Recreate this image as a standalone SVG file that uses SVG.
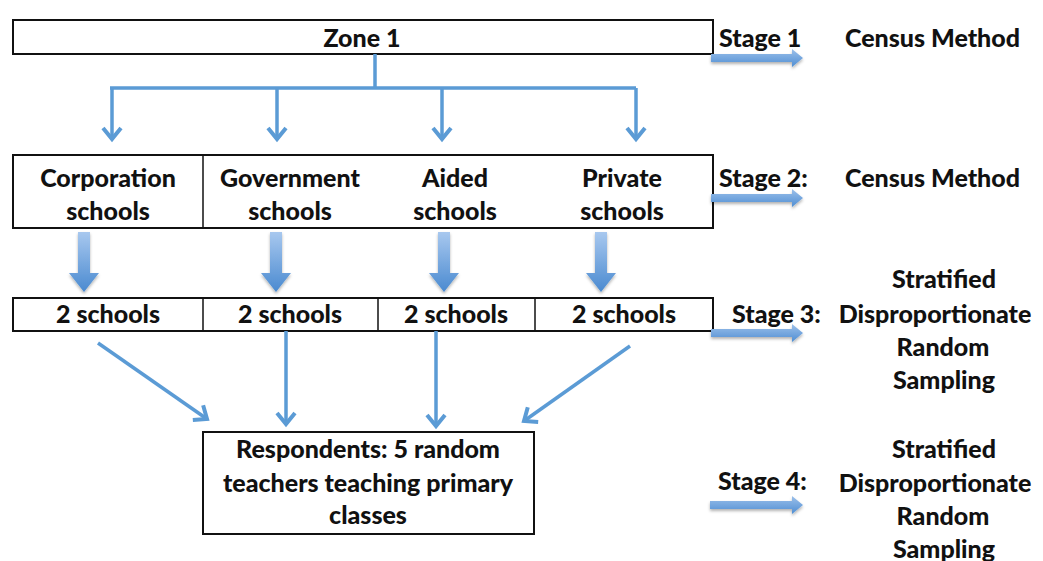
<svg xmlns="http://www.w3.org/2000/svg" width="1043" height="561" viewBox="0 0 1043 561">
  <defs>
    <style>
      text { font-family: Lato, "Open Sans", "Liberation Sans", sans-serif; font-weight: 900; font-size: 25px; fill: #111; }
      .c { text-anchor: middle; }
      .box { fill: #fff; stroke: #111; stroke-width: 2; }
      .div { stroke: #111; stroke-width: 1.5; }
      .link { fill: none; stroke: #5b9bd5; stroke-width: 3.5; }
      .block { fill: url(#blockGrad); }
    </style>
    <linearGradient id="blockGrad" x1="0" y1="0" x2="0" y2="1">
      <stop offset="0" stop-color="#9cc0ea"/>
      <stop offset="1" stop-color="#4f8ed3"/>
    </linearGradient>
    <linearGradient id="blockGradV" x1="0" y1="0" x2="0" y2="1">
      <stop offset="0" stop-color="#a8c8ef"/>
      <stop offset="1" stop-color="#4a8ad0"/>
    </linearGradient>
    <filter id="shadow" x="-20%" y="-20%" width="140%" height="160%">
      <feDropShadow dx="0" dy="2" stdDeviation="1.5" flood-color="#000" flood-opacity="0.3"/>
    </filter>
    <marker id="head" viewBox="0 0 24 24" refX="14" refY="12" markerWidth="24" markerHeight="24" markerUnits="userSpaceOnUse" orient="auto">
      <path d="M3,3 L14,12 L3,21" fill="none" stroke="#5b9bd5" stroke-width="4" stroke-linejoin="miter"/>
    </marker>
  </defs>

  <!-- Stage 1 -->
  <g id="zone1">
    <rect class="box" x="13" y="20" width="700" height="34"/>
    <text class="c" x="362" y="47">Zone 1</text>
  </g>

  <!-- Stage 2 row -->
  <g id="school-types">
    <rect class="box" x="13" y="155" width="700" height="73"/>
    <line class="div" x1="203" y1="155" x2="203" y2="228"/>
    <text class="c" x="108" y="187">Corporation</text>
    <text class="c" x="108" y="220">schools</text>
    <text class="c" x="290" y="187">Government</text>
    <text class="c" x="290" y="220">schools</text>
    <text class="c" x="455" y="187">Aided</text>
    <text class="c" x="455" y="220">schools</text>
    <text class="c" x="622" y="187">Private</text>
    <text class="c" x="622" y="220">schools</text>
  </g>

  <!-- Stage 3 row -->
  <g id="samples">
    <rect class="box" x="13" y="298" width="700" height="33"/>
    <line class="div" x1="203" y1="298" x2="203" y2="331"/>
    <line class="div" x1="378" y1="298" x2="378" y2="331"/>
    <line class="div" x1="535" y1="298" x2="535" y2="331"/>
    <text class="c" x="108" y="323">2 schools</text>
    <text class="c" x="290" y="323">2 schools</text>
    <text class="c" x="456" y="323">2 schools</text>
    <text class="c" x="624" y="323">2 schools</text>
  </g>

  <!-- Stage 4 -->
  <g id="respondents">
    <rect class="box" x="203" y="432" width="331" height="102"/>
    <text class="c" x="368" y="458">Respondents: 5 random</text>
    <text class="c" x="368" y="492">teachers teaching primary</text>
    <text class="c" x="368" y="524">classes</text>
  </g>

  <!-- stage labels -->
  <g id="stage-labels">
    <text x="719" y="47">Stage 1</text>
    <text x="845" y="47">Census Method</text>
    <text x="719" y="187">Stage 2:</text>
    <text x="845" y="187">Census Method</text>
    <text x="732" y="323">Stage 3:</text>
    <text class="c" x="944" y="288">Stratified</text>
    <text class="c" x="935" y="323">Disproportionate</text>
    <text class="c" x="943" y="356">Random</text>
    <text class="c" x="944" y="389">Sampling</text>
    <text x="718" y="490">Stage 4:</text>
    <text class="c" x="944" y="458">Stratified</text>
    <text class="c" x="935" y="492">Disproportionate</text>
    <text class="c" x="943" y="525">Random</text>
    <text class="c" x="944" y="558">Sampling</text>
  </g>

  <!-- connectors -->
  <g id="connectors">
    <!-- zone to school types -->
    <path class="link" d="M375,54 V88 M110,88 H636"/>
    <line class="link" x1="112" y1="88" x2="112" y2="139" marker-end="url(#head)"/>
    <line class="link" x1="277" y1="88" x2="277" y2="139" marker-end="url(#head)"/>
    <line class="link" x1="442" y1="88" x2="442" y2="139" marker-end="url(#head)"/>
    <line class="link" x1="636" y1="88" x2="636" y2="139" marker-end="url(#head)"/>

    <!-- school types to samples -->
    <g filter="url(#shadow)" fill="url(#blockGradV)">
      <path d="M78,232 H90 V273 H99 L84,292 L69,273 H78 Z"/>
      <path d="M270,232 H282 V273 H291 L276,292 L261,273 H270 Z"/>
      <path d="M438,232 H450 V273 H459 L444,292 L429,273 H438 Z"/>
      <path d="M595,232 H607 V273 H616 L601,292 L586,273 H595 Z"/>
    </g>

    <!-- samples to respondents -->
    <line class="link" x1="98" y1="343" x2="207" y2="419" marker-end="url(#head)"/>
    <line class="link" x1="286" y1="331" x2="286" y2="424" marker-end="url(#head)"/>
    <line class="link" x1="436" y1="331" x2="436" y2="426" marker-end="url(#head)"/>
    <line class="link" x1="630" y1="346" x2="524" y2="421" marker-end="url(#head)"/>

    <!-- stage arrows -->
    <g filter="url(#shadow)" class="block">
      <path d="M711,54 H792 V49 L803,58 L792,67 V62 H711 Z"/>
      <path d="M711,194 H792 V189 L803,198 L792,207 V202 H711 Z"/>
      <path d="M711,329 H792 V324 L803,333 L792,342 V337 H711 Z"/>
      <path d="M710,501 H792 V496 L803,505 L792,514 V509 H710 Z"/>
    </g>
  </g>
</svg>
